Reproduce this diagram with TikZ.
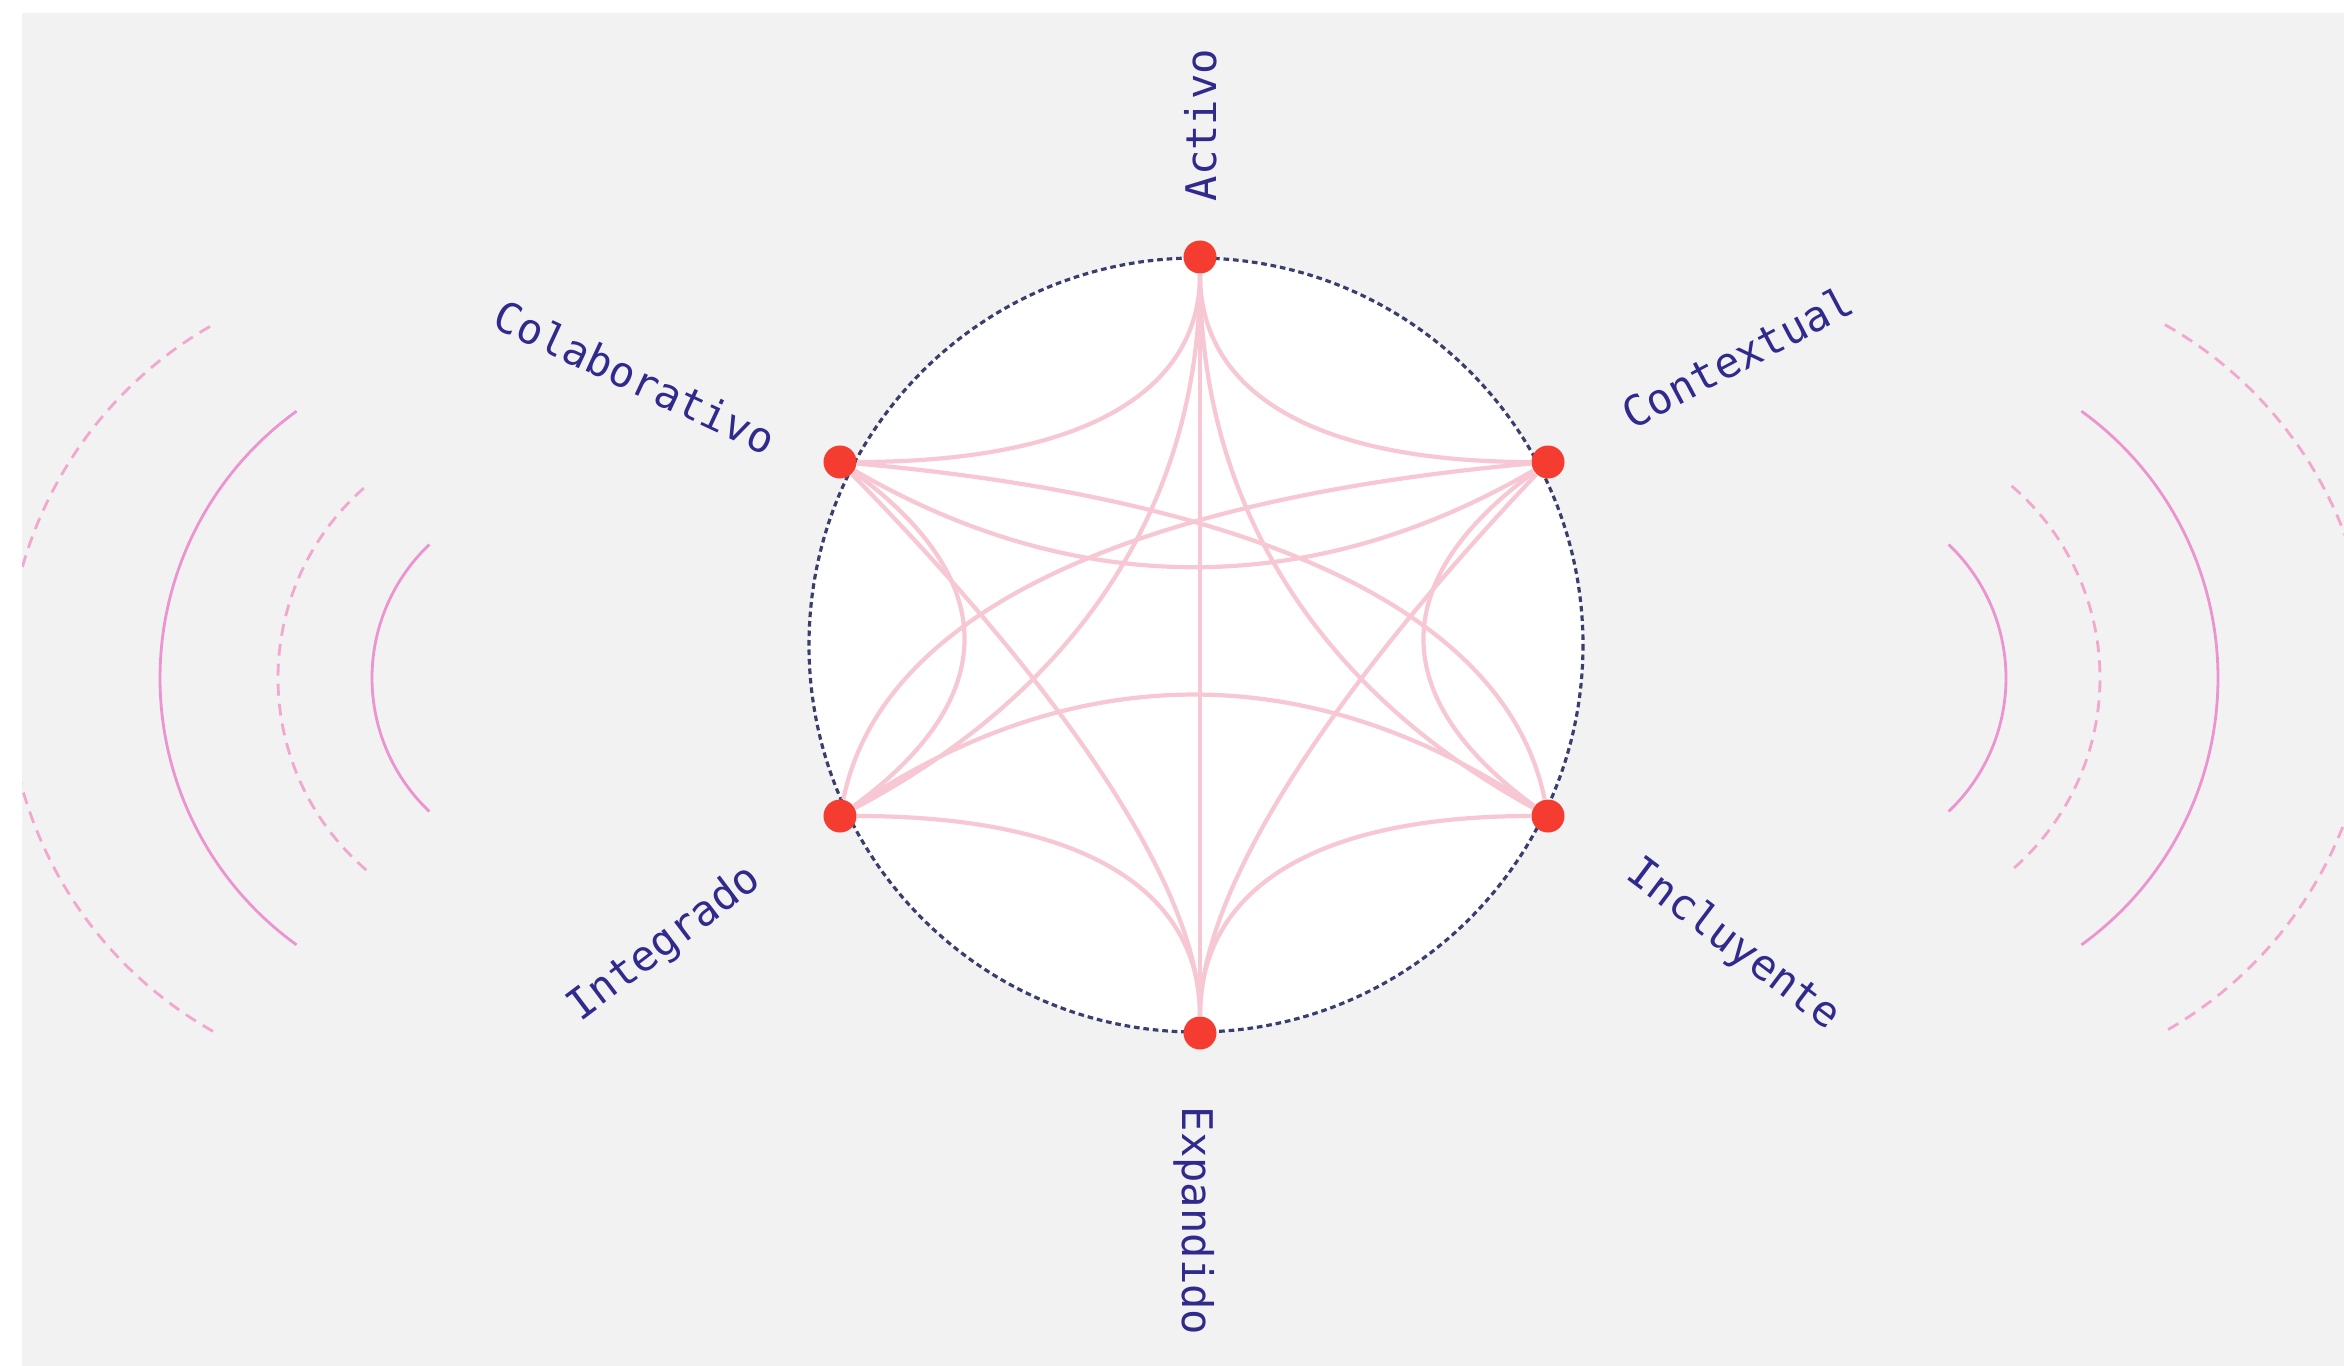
\documentclass[tikz,border=0pt]{standalone}
\usepackage{fontspec}
\usetikzlibrary{calc}
\newfontfamily\tagfont{DejaVu Sans Mono}
\definecolor{panel}{HTML}{F2F2F2}
\definecolor{ink}{RGB}{48,42,140}
\definecolor{dotred}{RGB}{245,60,48}
\definecolor{linkpink}{RGB}{247,200,212}
\definecolor{rim}{RGB}{58,62,110}
\definecolor{wavepink}{RGB}{236,148,208}
\definecolor{wavelight}{RGB}{242,168,206}
\pgfdeclarelayer{back}
\pgfsetlayers{back,main}
\tikzset{quad/.style={to path={.. controls ($(\tikztostart)!.667!#1$) and ($(\tikztotarget)!.667!#1$) .. (\tikztotarget)}}}

\begin{document}
\begin{tikzpicture}[x=0.01cm,y=-0.01cm,
  every node/.style={font=\tagfont\fontsize{12}{14}\selectfont},
  dot/.style={circle,fill=dotred,inner sep=0pt,minimum size=0.33cm},
  tag/.style={text=ink,inner sep=0pt},
  link/.style={draw=linkpink,line width=1.2pt},
  wave/.style={draw=wavepink,line width=0.8pt},
  wavedash/.style={draw=wavelight,line width=0.8pt,dash pattern=on 3.4pt off 2.3pt}]
  \useasboundingbox (0,0) rectangle (2344,1366);
  \node[dot] (act) at (1200,257) {};
  \node[dot] (ctx) at (1548,462) {};
  \node[dot] (inc) at (1548,816) {};
  \node[dot] (exp) at (1200,1033) {};
  \node[dot] (int) at (840,816) {};
  \node[dot] (col) at (840,462) {};

  \node[tag,rotate=90] (lact) at (1201,125) {Activo};
  \node[tag,rotate=-90] (lexp) at (1194,1221) {Expandido};
  \node[tag,rotate=-25] (lcol) at (635,377) {Colaborativo};
  \node[tag,rotate=28] (lctx) at (1737,357) {Contextual};
  \node[tag,rotate=37] (lint) at (665,944) {Integrado};
  \node[tag,rotate=-37] (linc) at (1733,945) {Incluyente};

  \begin{pgfonlayer}{back}
  \fill[white] (0,0) rectangle (2344,1366);
  \fill[panel] (22,13) rectangle (2344,1366);
  \begin{scope}
    \clip (22,13) rectangle (2344,1366);
    \draw[wave] (556,678) ++(133.5:184) arc[start angle=133.5,end angle=226.5,radius=184];
    \draw[wavedash] (531,678) ++(130.6:253) arc[start angle=130.6,end angle=229.4,radius=253];
    \draw[wave] (489,678) ++(125.8:329) arc[start angle=125.8,end angle=234.2,radius=329];
    \draw[wavedash] (413,678) ++(119.5:406) arc[start angle=119.5,end angle=240.5,radius=406];
    \draw[wave] (1822,678) ++(-46.5:184) arc[start angle=-46.5,end angle=46.5,radius=184];
    \draw[wavedash] (1847,678) ++(-49.4:253) arc[start angle=-49.4,end angle=49.4,radius=253];
    \draw[wave] (1889,678) ++(-54.2:329) arc[start angle=-54.2,end angle=54.2,radius=329];
    \draw[wavedash] (1965,678) ++(-60.5:406) arc[start angle=-60.5,end angle=60.5,radius=406];
  \end{scope}
  \draw[rim,line width=0.9pt,dash pattern=on 1.6pt off 1.1pt,fill=white] (1196,645) circle[radius=387];

  \draw[link] (act) -- (exp);
  \draw[link] (act) to[quad={(1200,462)}] (col);
  \draw[link] (act) to[quad={(1200,462)}] (ctx);
  \draw[link] (act) to[quad={(1200,625)}] (int);
  \draw[link] (act) to[quad={(1200,625)}] (inc);
  \draw[link] (exp) to[quad={(1200,816)}] (int);
  \draw[link] (exp) to[quad={(1200,816)}] (inc);
  \draw[link] (exp) to[quad={(1200,830)}] (col);
  \draw[link] (exp) to[quad={(1200,830)}] (ctx);
  \draw[link] (col) to[quad={(1194,668)}] (ctx);
  \draw[link] (int) to[quad={(1194,578)}] (inc);
  \draw[link] (col) to[quad={(1082,639)}] (int);
  \draw[link] (ctx) to[quad={(1306,639)}] (inc);
  \draw[link] (ctx) to[quad={(900,520)}] (int);
  \draw[link] (col) to[quad={(1488,520)}] (inc);
  \end{pgfonlayer}
\end{tikzpicture}
\end{document}
